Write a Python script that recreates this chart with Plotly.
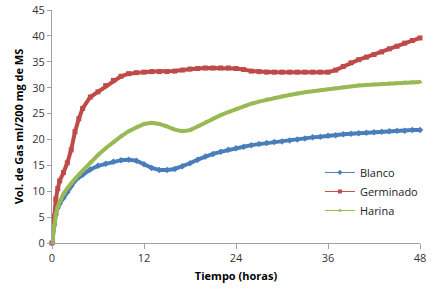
import plotly.graph_objects as go

horas = [0, 0.25, 0.5, 0.75, 1, 1.5, 2, 2.5, 3, 3.5, 4, 5, 6, 7, 8, 9, 10, 11, 12,
         13, 14, 15, 16, 17, 18, 19, 20, 21, 22, 23, 24, 25, 26, 27, 28, 29, 30,
         31, 32, 33, 34, 35, 36, 37, 38, 39, 40, 41, 42, 43, 44, 45, 46, 47, 48]

blanco = [0, 3.5, 5.5, 6.8, 7.6, 8.7, 9.8, 11.0, 12.0, 12.7, 13.2, 14.2, 14.9, 15.3, 15.7, 16.0, 16.1, 15.9, 15.2,
          14.5, 14.1, 14.1, 14.3, 14.8, 15.4, 16.1, 16.7, 17.2, 17.6, 18.0, 18.3, 18.6, 18.9, 19.1, 19.3, 19.5, 19.6,
          19.8, 20.0, 20.2, 20.4, 20.5, 20.7, 20.8, 21.0, 21.1, 21.2, 21.3, 21.4, 21.5, 21.6, 21.7, 21.7, 21.8, 21.8]

germinado = [0, 5.2, 8.5, 10.5, 12.0, 13.6, 15.5, 18.0, 21.5, 24.0, 26.0, 28.2, 29.2, 30.4, 31.4, 32.2, 32.7, 32.9, 33.0,
             33.1, 33.1, 33.1, 33.2, 33.4, 33.6, 33.7, 33.8, 33.8, 33.8, 33.8, 33.7, 33.5, 33.2, 33.1, 33.0, 33.0, 33.0,
             33.0, 33.0, 33.0, 33.0, 33.0, 33.0, 33.4, 34.1, 34.8, 35.4, 35.9, 36.4, 36.9, 37.5, 38.0, 38.6, 39.1, 39.6]

harina = [0, 3.5, 5.5, 7.0, 8.0, 9.5, 10.6, 11.6, 12.4, 13.2, 14.0, 15.6, 17.0, 18.3, 19.5, 20.6, 21.6, 22.4, 23.0,
          23.2, 23.0, 22.5, 21.9, 21.6, 21.8, 22.5, 23.3, 24.0, 24.7, 25.3, 25.9, 26.4, 26.9, 27.3, 27.7, 28.0, 28.3,
          28.6, 28.9, 29.1, 29.3, 29.5, 29.7, 29.9, 30.1, 30.2, 30.4, 30.5, 30.6, 30.7, 30.8, 30.9, 31.0, 31.1, 31.1]

x_ticks = [0, 12, 24, 36, 48]
y_ticks = [0, 5, 10, 15, 20, 25, 30, 35, 40, 45]

series = [
    ("Blanco", blanco, "#4A7EBB", "diamond"),
    ("Germinado", germinado, "#BE4B48", "square"),
    ("Harina", harina, "#98B954", "triangle-up"),
]

fig = go.Figure()
for name, vals, col, sym in series:
    fig.add_trace(go.Scatter(x=horas, y=vals, mode="lines+markers", name=name,
                             line=dict(color=col, width=4),
                             marker=dict(color=col, symbol=sym, size=5),
                             showlegend=False, cliponaxis=False))
for name, vals, col, sym in series:
    fig.add_trace(go.Scatter(x=[None], y=[None], mode="lines+markers", name=name,
                             line=dict(color=col, width=1),
                             marker=dict(color=col, symbol=sym, size=4)))

fig.update_layout(
    width=437, height=293,
    margin=dict(l=52, r=17, t=10, b=50),
    plot_bgcolor="white", paper_bgcolor="white",
    font=dict(family="Open Sans", size=11, color="#333333"),
    legend=dict(x=0.728, y=0.365, xanchor="left", yanchor="top",
                font=dict(size=11, color="#222222"), bgcolor="rgba(0,0,0,0)",
                itemwidth=30, tracegroupgap=2),
    showlegend=True,
)
fig.update_xaxes(range=[0, 48], tickvals=x_ticks, ticks="outside", ticklen=5,
                 tickcolor="#A0A0A0", showline=True, linecolor="#A0A0A0",
                 showgrid=False, zeroline=False, automargin=False,
                 title=dict(text="<b>Tiempo (horas)</b>", font=dict(size=11, color="#000000"), standoff=8))
fig.update_yaxes(range=[0, 45], tickvals=y_ticks, ticks="outside", ticklen=4,
                 tickcolor="#A0A0A0", showline=True, linecolor="#A0A0A0",
                 showgrid=False, zeroline=False, automargin=False,
                 title=dict(text="<b>Vol. de Gas ml/200 mg de MS</b>", font=dict(size=11, color="#000000"), standoff=6))

fig.write_html("out.html", config={"displayModeBar": False},
               post_script="document.body.style.margin='0';")
